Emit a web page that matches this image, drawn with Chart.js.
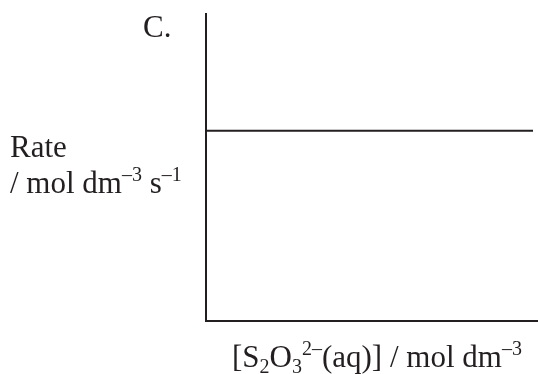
<!DOCTYPE html>
<html>
<head>
<meta charset="utf-8">
<script src="https://cdn.jsdelivr.net/npm/chart.js@4"></script>
<style>
  html, body { margin: 0; padding: 0; background: #fff; }
  #wrap { width: 538px; height: 374px; position: relative; }
</style>
</head>
<body>
<div id="wrap"><canvas id="rateChart"></canvas></div>
<script>
// graph C: rate independent of thiosulfate concentration
const concValues = [0, 98.8];
const rateValues = [6.2, 6.2];
const xRange = [0, 100];
const yRange = [0, 10];

// label pieces: [text, 'sup' | 'sub' | '']
const panelLabel = [['C.', '']];
const yLabelLine1 = [['Rate', '']];
const yLabelLine2 = [['/ mol dm', ''], ['\u20133', 'sup'], [' s', ''], ['\u20131', 'sup']];
const xLabel = [['[S', ''], ['2', 'sub'], ['O', ''], ['3', 'sub'], ['2\u2013', 'sup'], ['(aq)] / mol dm', ''], ['\u20133', 'sup']];

const ink = '#231f20';
const fontSize = 31;

function drawRich(ctx, parts, x, y) {
    let cx = x;
    parts.forEach(p => {
        const small = p[1] !== '';
        const size = small ? Math.round(fontSize * 0.65) : fontSize;
        let dy = 0;
        if (p[1] === 'sup') dy = -fontSize * 0.38;
        if (p[1] === 'sub') dy = fontSize * 0.2;
        ctx.font = size + 'px "Liberation Serif", "Times New Roman", serif';
        ctx.fillText(p[0], cx, y + dy);
        cx += ctx.measureText(p[0]).width;
    });
}

const textPlugin = {
    id: 'textLabels',
    afterDraw(chart) {
        const ctx = chart.ctx;
        ctx.save();
        ctx.fillStyle = ink;
        ctx.textBaseline = 'alphabetic';
        drawRich(ctx, panelLabel, 143, 37);
        drawRich(ctx, yLabelLine1, 10, 157);
        drawRich(ctx, yLabelLine2, 10, 193);
        drawRich(ctx, xLabel, 232, 367);
        ctx.restore();
    }
};

const ctx = document.getElementById('rateChart').getContext('2d');
new Chart(ctx, {
    type: 'line',
    data: {
        datasets: [{
            data: concValues.map((c, i) => ({ x: c, y: rateValues[i] })),
            borderColor: ink,
            borderWidth: 2,
            pointRadius: 0,
            fill: false,
            tension: 0
        }]
    },
    options: {
        responsive: true,
        maintainAspectRatio: false,
        animation: false,
        layout: { padding: { left: 206, top: 14, right: 1, bottom: 53 } },
        scales: {
            x: {
                type: 'linear',
                min: xRange[0],
                max: xRange[1],
                grid: { display: false, drawTicks: false },
                ticks: { display: false },
                border: { display: true, color: ink, width: 2 }
            },
            y: {
                min: yRange[0],
                max: yRange[1],
                grid: { display: false, drawTicks: false },
                ticks: { display: false },
                border: { display: true, color: ink, width: 2 }
            }
        },
        plugins: {
            legend: { display: false },
            tooltip: { enabled: false }
        }
    },
    plugins: [textPlugin]
});
</script>
</body>
</html>
